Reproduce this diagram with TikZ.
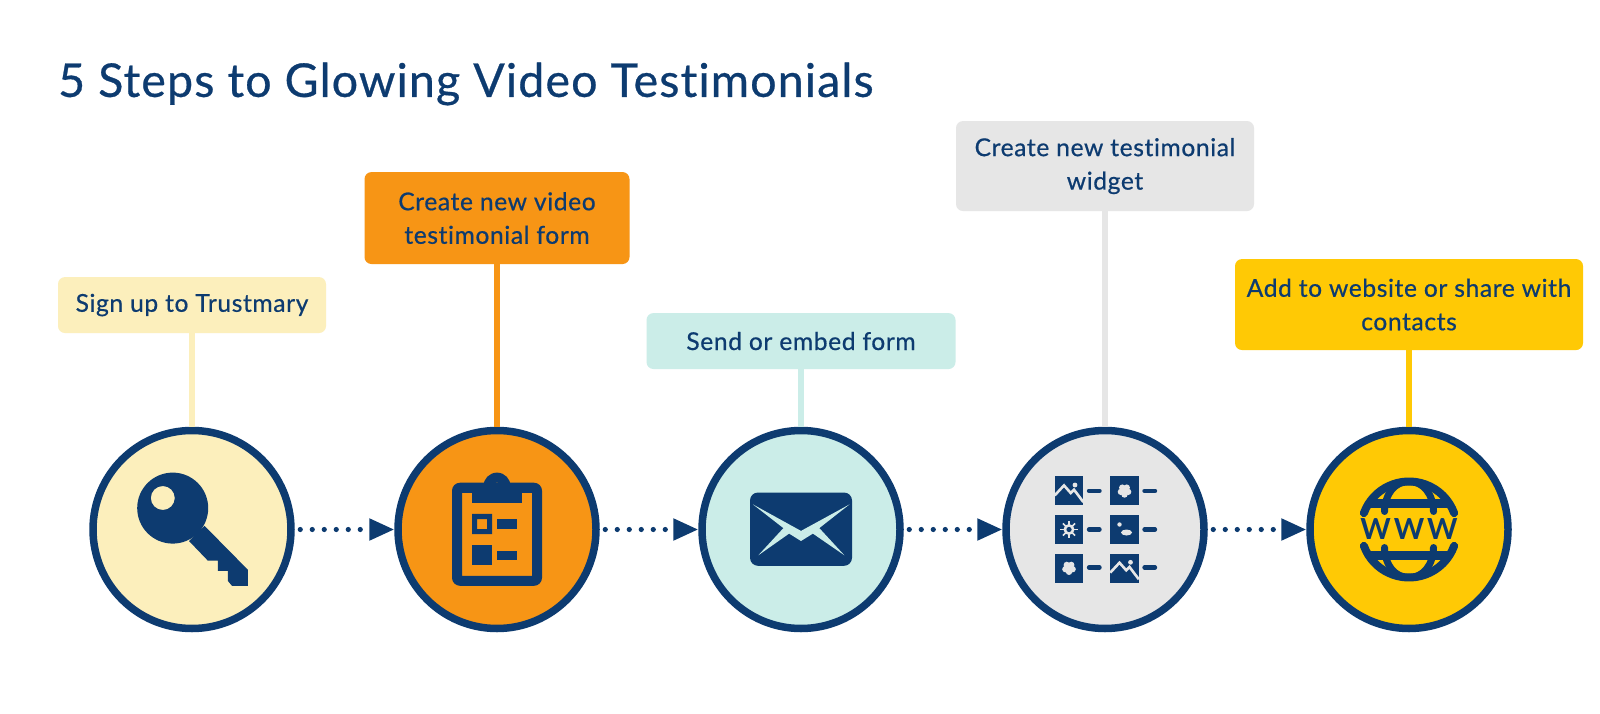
\documentclass[tikz,border=0pt]{standalone}
\usepackage{fontspec}
\setmainfont[LetterSpace=2.5,Ligatures=NoCommon,UprightFeatures={FakeBold=0.6},BoldFeatures={LetterSpace=0}]{Lato}
\usetikzlibrary{arrows.meta,positioning,shapes}
\definecolor{navy}{HTML}{0D3B70}
\definecolor{creamfill}{HTML}{FCEFBC}
\definecolor{orangefill}{HTML}{F79515}
\definecolor{tealfill}{HTML}{CBEDE8}
\definecolor{greyfill}{HTML}{E6E6E6}
\definecolor{yellowfill}{HTML}{FFC905}
\tikzset{
  pics/thumb/.style={code={\fill[navy] (-14.3,-14.5) rectangle (14.3,14.5);}},
  pics/mountainthumb/.style={code={
    \pic {thumb};
    \draw[greyfill, line width=2.6pt] (-14.3,4.7) -- (-5,-5.3) -- (1.7,2.3) -- (5,-1) -- (14.3,11.3);
    \fill[greyfill] (6,-5.7) circle (2.4);}},
  pics/flowerthumb/.style={code={
    \pic {thumb};
    \fill[greyfill] (0,0) circle (4.5);
    \foreach \petal in {18,90,162,234,306}
      \fill[greyfill] (\petal:3.8) circle (3.2);}},
  pics/sunthumb/.style={code={
    \pic {thumb};
    \fill[greyfill] (0,0) circle (5.5);
    \foreach \ray in {0,45,...,315}
      \draw[greyfill, line width=1.6pt] (0,0) -- (\ray:8.6);
    \fill[navy] (0,0) circle (2.6);}},
  pics/cloudthumb/.style={code={
    \pic {thumb};
    \fill[greyfill] (-5,-5) circle (2.2);
    \fill[greyfill] (2,3) ellipse (5.5 and 3);}},
  pics/globecap/.style={code={
    \draw[navy, line width=8pt, line cap=round] (200:48) arc (200:340:48);
    \draw[navy, line width=7pt, line cap=round] (-24.5,-18) .. controls (-24,-36) and (-14,-48) .. (0,-48);
    \draw[navy, line width=7pt, line cap=round] (24.5,-18) .. controls (24,-36) and (14,-48) .. (0,-48);
    \draw[navy, line width=8.5pt] (-38,-26) -- (38,-26);}}
}
\begin{document}
\begin{tikzpicture}[x=1pt,y=-1pt]
  \tikzstyle{stepcircle}=[circle, draw=navy, line width=7.5pt, minimum size=198pt, inner sep=0pt]
  \tikzstyle{labelbox}=[rectangle, rounded corners=7pt, minimum width=268pt, minimum height=56pt, inner sep=0pt,
                        align=center, text=navy, font=\fontsize{24.6}{33.5}\selectfont]
  \tikzstyle{stem}=[line width=6pt]
  \tikzstyle{dotline}=[navy, line width=5.2pt, line cap=round, dash pattern=on 0pt off 12pt, shorten <=5.5pt,
                       -{Triangle[length=25pt,width=21pt]}]
  \useasboundingbox (0,0) rectangle (1600,714);
  \fill[white] (0,0) rectangle (1600,714);
  \node[anchor=west, inner sep=0pt, text=navy, font=\fontsize{46.5}{50}\selectfont] (Title) at (58,84)
       {5 Steps to Glowing Video Testimonials};
  \node[stepcircle, fill=creamfill] (Key) at (192,529.5) {};
  \node[stepcircle, fill=orangefill, right=99.5pt of Key] (Clipboard) {};
  \node[stepcircle, fill=tealfill, right=98.5pt of Clipboard] (Envelope) {};
  \node[stepcircle, fill=greyfill, right=98.5pt of Envelope] (Widget) {};
  \node[stepcircle, fill=yellowfill, right=98.5pt of Widget] (Globe) {};
  \node[labelbox, fill=creamfill, above=93.5pt of Key] (Sign Up) {Sign up to Trustmary};
  \node[labelbox, fill=orangefill, minimum width=265pt, minimum height=92pt, above=162.5pt of Clipboard] (New Form) {Create new video\\ testimonial form};
  \node[labelbox, fill=tealfill, minimum width=309pt, above=57.5pt of Envelope] (Send Form) {Send or embed form};
  \node[labelbox, fill=greyfill, minimum width=298pt, minimum height=90pt, above=215.5pt of Widget] (New Widget) {Create new testimonial\\ widget};
  \node[labelbox, fill=yellowfill, minimum width=348pt, minimum height=91pt, above=76.5pt of Globe] (Share) {Add to website or share with\\ contacts};
  \draw[stem, creamfill] (Sign Up) -- (Key);
  \draw[stem, orangefill] (New Form) -- (Clipboard);
  \draw[stem, tealfill] (Send Form) -- (Envelope);
  \draw[stem, greyfill] (New Widget) -- (Widget);
  \draw[stem, yellowfill] (Share) -- (Globe);
  \draw[dotline] (Key) -- (Clipboard);
  \draw[dotline] (Clipboard) -- (Envelope);
  \draw[dotline] (Envelope) -- (Widget);
  \draw[dotline] (Widget) -- (Globe);
  % icons
  \begin{scope}[shift={(Key.center)}]
    \fill[navy, even odd rule] (-19.3,-21.4) circle (35.5) (-29.2,-31.5) circle (12);
    \fill[navy] (12.5,-3.7) -- (55.9,40.3) -- (55.9,56.3) -- (40,56.3) -- (35.9,51.5) -- (35.9,41.4) -- (25.8,41.4)
                -- (25.8,31.2) -- (15.9,31.2) -- (-3,11.5) -- cycle;
  \end{scope}
  \begin{scope}[shift={(Clipboard.center)}]
    \fill[navy, even odd rule] [rounded corners=8pt] (-45,-46.8) rectangle (45,56.3) [sharp corners] (-35,-36.6) rectangle (35,46.4);
    \fill[navy] (-25,-36.6) rectangle (25,-26.4);
    \fill[navy, even odd rule] (0,-43.4) circle (13.5) (0,-41.7) circle (5.4);
    \fill[navy, even odd rule] (-25,-15.6) rectangle (-5,4.7) (-20,-10.5) rectangle (-10,-0.3);
    \fill[navy] (0,-10.2) rectangle (20,-0.3);
    \fill[navy] (-25,15.6) rectangle (-5,35.9);
    \fill[navy] (0,21) rectangle (20,30.8);
  \end{scope}
  \begin{scope}[shift={(Envelope.center)}]
    \fill[navy, rounded corners=8pt] (-51,-37) rectangle (51,36.3);
    \fill[tealfill] (-48.1,-25.1) -- (0,1.4) -- (48.5,-25.1) -- (18.3,-1.4) -- (43.4,25.8) -- (11.9,4.1) -- (0,11.5)
                    -- (-11.9,4.1) -- (-42.7,25.8) -- (-17.6,-1.4) -- cycle;
  \end{scope}
  \begin{scope}[shift={(Widget.center)}]
    \pic at (-36,-38.8) {mountainthumb};
    \pic at (19.5,-38.8) {flowerthumb};
    \pic at (-36,0) {sunthumb};
    \pic at (19.5,0) {cloudthumb};
    \pic at (-36,38.5) {flowerthumb};
    \pic at (19.5,38.5) {mountainthumb};
    \foreach \rowy in {-38.6,0,38}{
      \draw[navy, line width=4.4pt, line cap=round] (-16,\rowy) -- (-5.5,\rowy);
      \draw[navy, line width=4.4pt, line cap=round] (39.5,\rowy) -- (50,\rowy);
    }
  \end{scope}
  \begin{scope}[shift={(Globe.center)}]
    \pic {globecap};
    \pic[yscale=-1] {globecap};
    \node[inner sep=0pt, text=navy, font=\fontsize{29}{29}\selectfont\bfseries] (Globe Text) at (0,0) {W\hspace{3pt}W\hspace{3pt}W};
  \end{scope}
\end{tikzpicture}
\end{document}
